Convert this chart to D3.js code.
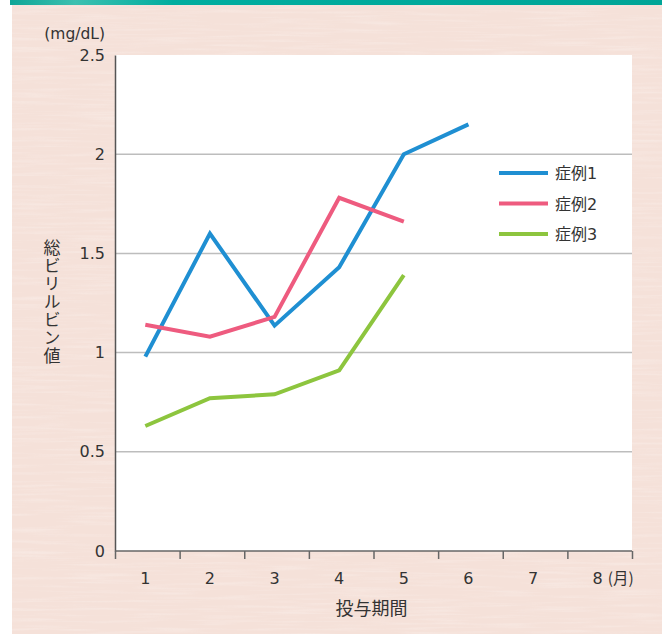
<!DOCTYPE html>
<html>
<head>
<meta charset="utf-8">
<script src="https://cdn.jsdelivr.net/npm/d3@7"></script>
<style>
  body { margin: 0; background: #fff; }
  svg text { font-family: "DejaVu Sans", "Noto Sans CJK JP", sans-serif; fill: #333; }
  svg text.jp { font-family: "Noto Sans CJK JP", sans-serif; }
</style>
</head>
<body>
<svg id="chart" width="662" height="634"></svg>
<script>
// data
const months = [1, 2, 3, 4, 5, 6, 7, 8];
const yTicks = [0, 0.5, 1, 1.5, 2, 2.5];
const seriesNames = ['症例', '症例', '症例'];
const seriesNums = ['1', '2', '3'];
const case1 = [0.98, 1.60, 1.136, 1.43, 2.0, 2.15];
const case2 = [1.14, 1.08, 1.18, 1.78, 1.66];
const case3 = [0.63, 0.77, 0.79, 0.91, 1.39];
const colors = ['#1f8fd2', '#ee5b7f', '#8dc53e'];

const width = 662, height = 634;
const margin = { top: 55, right: 30, bottom: 82, left: 115 };

const svg = d3.select('#chart');
const defs = svg.append('defs');

// teal band gradient
const grad = defs.append('linearGradient').attr('id', 'band');
grad.append('stop').attr('offset', '0%').attr('stop-color', '#0ea596');
grad.append('stop').attr('offset', '10%').attr('stop-color', '#3cc0b0');
grad.append('stop').attr('offset', '25%').attr('stop-color', '#00ad9f');
grad.append('stop').attr('offset', '100%').attr('stop-color', '#00a597');

// paper texture
const filt = defs.append('filter').attr('id', 'paper').attr('x', 0).attr('y', 0).attr('width', 1).attr('height', 1);
filt.append('feTurbulence').attr('type', 'fractalNoise').attr('baseFrequency', '0.015 0.35').attr('numOctaves', 2).attr('seed', 3);
filt.append('feColorMatrix').attr('type', 'matrix')
  .attr('values', '0 0 0 0 1  0 0 0 0 1  0 0 0 0 1  0 0 0 1.2 -0.55');
filt.append('feComposite').attr('in2', 'SourceGraphic').attr('operator', 'in');

svg.append('rect').attr('x', 12).attr('y', 0).attr('width', width - 12).attr('height', height)
  .attr('fill', '#f5e1d9');
svg.append('rect').attr('x', 12).attr('y', 0).attr('width', width - 12).attr('height', height)
  .attr('fill', '#fff').attr('opacity', 0.45).attr('filter', 'url(#paper)');
svg.append('rect').attr('x', 10).attr('y', 0).attr('width', width - 10).attr('height', 5)
  .attr('fill', 'url(#band)');

const x = d3.scaleLinear().domain([0.5, 8.5]).range([margin.left, width - margin.right]);
const y = d3.scaleLinear().domain([0, 2.5]).range([height - margin.bottom - 1, margin.top]);
const px = d => x(d) - 2;

// plot background
svg.append('rect')
  .attr('x', x(0.5)).attr('y', y(2.5))
  .attr('width', x(8.5) - x(0.5)).attr('height', y(0) - y(2.5))
  .attr('fill', '#fff');

// gridlines
svg.append('g')
  .selectAll('line')
  .data(yTicks.filter(d => d > 0 && d < 2.5))
  .join('line')
  .attr('x1', x(0.5)).attr('x2', x(8.5))
  .attr('y1', d => y(d)).attr('y2', d => y(d))
  .attr('stroke', '#bdbdbd').attr('stroke-width', 1.5);

// y axis
const yAxis = svg.append('g')
  .attr('transform', `translate(${x(0.5)},0)`)
  .call(d3.axisLeft(y).tickValues(yTicks).tickSize(0).tickPadding(10).tickFormat(d3.format('')));
yAxis.select('.domain').attr('stroke', '#555').attr('stroke-width', 1.5);
yAxis.selectAll('text').attr('font-size', '16px').attr('fill', '#333')
  .style('font-family', '"DejaVu Sans", sans-serif');

svg.append('text')
  .attr('x', 105).attr('y', 39)
  .attr('text-anchor', 'end')
  .attr('font-size', '15.5px')
  .text('(mg/dL)');

// x axis: ticks on band edges, labels in between
const xAxis = svg.append('g')
  .attr('transform', `translate(0,${y(0)})`)
  .call(d3.axisBottom(x).tickValues(months.map(m => m - 0.5).concat([8.5])).tickSize(8).tickFormat(''));
xAxis.select('.domain').attr('stroke', '#666').attr('stroke-width', 1.5).attr('d', `M${x(0.5)},0H${x(8.5)}`);
xAxis.selectAll('.tick line').attr('stroke', '#666').attr('stroke-width', 1.5);

svg.append('g').selectAll('text')
  .data(months)
  .join('text')
  .attr('x', d => px(d))
  .attr('y', y(0) + 33)
  .attr('text-anchor', 'middle')
  .attr('font-size', '16px')
  .text(d => d);

svg.append('text')
  .attr('class', 'jp')
  .attr('x', px(8) + 10).attr('y', y(0) + 33)
  .attr('font-size', '15.5px')
  .text('(月)');

svg.append('text')
  .attr('class', 'jp')
  .attr('x', x(4.5) - 2).attr('y', 615)
  .attr('text-anchor', 'middle')
  .attr('font-size', '18px')
  .text('投与期間');

svg.append('text')
  .attr('class', 'jp')
  .attr('transform', 'translate(52,302)')
  .attr('text-anchor', 'middle')
  .attr('font-size', '17px')
  .style('writing-mode', 'vertical-rl')
  .attr('letter-spacing', '1px')
  .text('総ビリルビン値');

// lines
const line = d3.line().x((d, i) => px(months[i])).y(d => y(d));
[case1, case2, case3].forEach((s, i) => {
  svg.append('path')
    .datum(s)
    .attr('d', line)
    .attr('fill', 'none')
    .attr('stroke', colors[i])
    .attr('stroke-width', 4);
});

// legend
const legend = svg.append('g').attr('transform', 'translate(499,173)');
seriesNames.forEach((name, i) => {
  const row = legend.append('g').attr('transform', `translate(0,${i * 30.5})`);
  row.append('line').attr('x1', 0).attr('x2', 49).attr('y1', 0).attr('y2', 0)
    .attr('stroke', colors[i]).attr('stroke-width', 4);
  const t = row.append('text').attr('x', 56).attr('y', 6).attr('font-size', '16px');
  t.append('tspan').style('font-family', '"Noto Sans CJK JP", sans-serif').text(name);
  t.append('tspan').text(seriesNums[i]);
});
</script>
</body>
</html>
